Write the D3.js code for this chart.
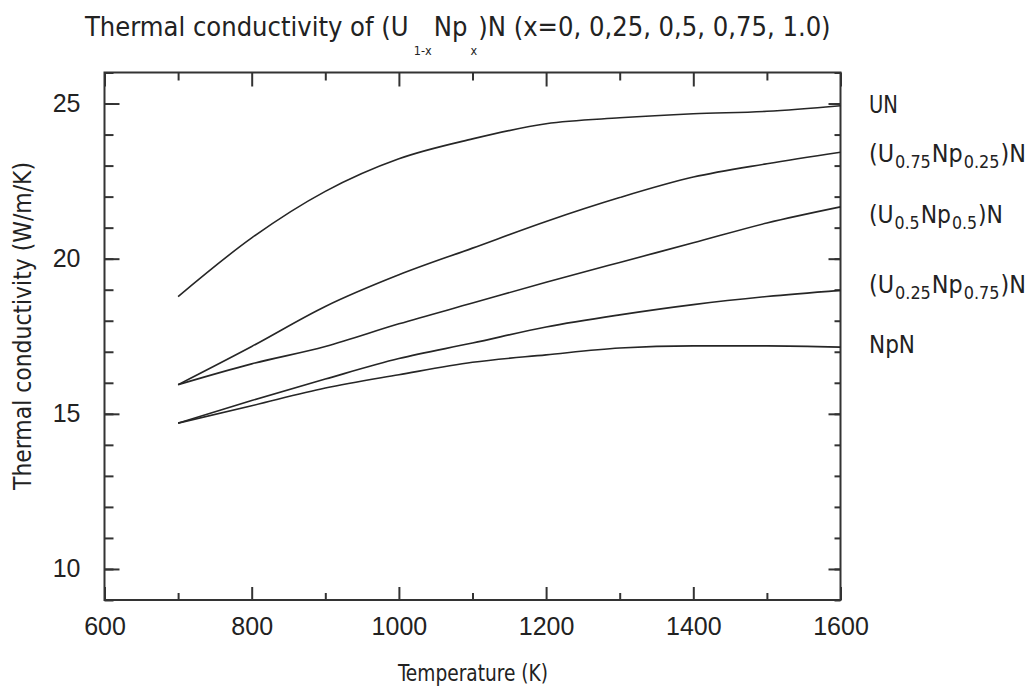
<!DOCTYPE html>
<html>
<head>
<meta charset="utf-8">
<script src="https://cdn.jsdelivr.net/npm/d3@7"></script>
<style>
  html, body { margin: 0; padding: 0; background: #fff; }
  svg { display: block; }
  text { fill: #222; font-family: "DejaVu Sans", sans-serif; }
</style>
</head>
<body>
<svg id="chart" width="1030" height="689"></svg>
<script>
// Temperatures (K) and thermal conductivity (W/m/K) of (U1-x Npx)N
const temperatures = [700, 800, 900, 1000, 1100, 1200, 1300, 1400, 1500, 1600];
const kUN     = [18.78, 20.67, 22.17, 23.22, 23.86, 24.35, 24.54, 24.67, 24.75, 24.93];
const kU75Np25 = [15.94, 17.17, 18.46, 19.48, 20.34, 21.20, 21.97, 22.63, 23.06, 23.43];
const kU50Np50 = [15.94, 16.61, 17.17, 17.90, 18.57, 19.24, 19.88, 20.51, 21.15, 21.67];
const kU25Np75 = [14.70, 15.43, 16.12, 16.78, 17.28, 17.80, 18.19, 18.52, 18.78, 18.98];
const kNpN    = [14.70, 15.26, 15.83, 16.26, 16.66, 16.90, 17.12, 17.19, 17.19, 17.15];

// Curve labels: [main, subscript, main, subscript, main]
const seriesLabels = [
  ["UN"],
  ["(U", "0.75", "Np", "0.25", ")N"],
  ["(U", "0.5", "Np", "0.5", ")N"],
  ["(U", "0.25", "Np", "0.75", ")N"],
  ["NpN"]
];
const seriesValues = [kUN, kU75Np25, kU50Np50, kU25Np75, kNpN];

const xMajorTicks = [600, 800, 1000, 1200, 1400, 1600];
const xMinorTicks = [700, 900, 1100, 1300, 1500];
const yMajorTicks = [10, 15, 20, 25];
const yMinorTicks = d3.range(9, 27);

const svg = d3.select("#chart");
const plotLeft = 104.5, plotRight = 840.5, plotTop = 72.5, plotBottom = 600;

const x = d3.scaleLinear().domain([600, 1600]).range([plotLeft, plotRight]);
const y = d3.scaleLinear().domain([9, 26]).range([plotBottom, plotTop]);

const frameColor = "#333";
const tickFont = "'Liberation Sans', Arial, sans-serif";
const labelFont = "'Liberation Sans Narrow', 'DejaVu Sans Condensed', sans-serif";

// Ticks on all four sides, pointing inward
function addAxis(axis, tx, ty, cls) {
  const g = svg.append("g").attr("class", cls)
    .attr("transform", `translate(${tx},${ty})`).call(axis);
  g.select(".domain").remove();
  g.selectAll("line").attr("stroke", frameColor).attr("stroke-width", 2);
  g.selectAll("text").attr("fill", "#222")
    .style("font-family", tickFont).style("font-size", "25px");
  return g;
}

// left
addAxis(d3.axisLeft(y).tickValues(yMinorTicks).tickSize(-9).tickFormat(""), plotLeft, 0, "y-minor");
addAxis(d3.axisLeft(y).tickValues(yMajorTicks).tickSize(-15).tickPadding(24), plotLeft, 0, "y-major");
// right
addAxis(d3.axisRight(y).tickValues(yMinorTicks).tickSize(-6).tickFormat(""), plotRight, 0, "y2-minor");
addAxis(d3.axisRight(y).tickValues(yMajorTicks).tickSize(-12).tickFormat(""), plotRight, 0, "y2-major");
// bottom
addAxis(d3.axisBottom(x).tickValues(xMinorTicks).tickSize(-7).tickFormat(""), 0, plotBottom, "x-minor");
addAxis(d3.axisBottom(x).tickValues(xMajorTicks).tickSize(-13).tickPadding(17).tickFormat(d3.format("d")), 0, plotBottom, "x-major");
// top
addAxis(d3.axisTop(x).tickValues(xMinorTicks).tickSize(-8).tickFormat(""), 0, plotTop, "x2-minor");
addAxis(d3.axisTop(x).tickValues(xMajorTicks).tickSize(-14).tickFormat(""), 0, plotTop, "x2-major");

// Plot frame
svg.append("rect")
  .attr("x", plotLeft).attr("y", plotTop)
  .attr("width", plotRight - plotLeft).attr("height", plotBottom - plotTop)
  .attr("fill", "none").attr("stroke", frameColor).attr("stroke-width", 2);

// Conductivity curves
const line = d3.line()
  .x((d, i) => x(temperatures[i]))
  .y(d => y(d))
  .curve(d3.curveMonotoneX);

svg.append("g").selectAll("path")
  .data(seriesValues)
  .join("path")
  .attr("d", line)
  .attr("fill", "none")
  .attr("stroke", "#262626")
  .attr("stroke-width", 1.6);

// Squeeze or stretch a text block horizontally to a given width
function fitWidth(sel, x0, y0, width) {
  const w = sel.node().getBBox().width;
  sel.attr("transform", `translate(${x0},${y0}) scale(${width / w},1)`);
}

// Curve labels at the right edge
const labelNudge = [-2, 1, 7, -6, -3];
const labelWidth = [29, 157, 134, 157, 46];
seriesLabels.forEach((parts, i) => {
  const last = seriesValues[i][seriesValues[i].length - 1];
  const t = svg.append("text")
    .style("font-family", labelFont)
    .style("font-size", "25px");
  let low = false;
  parts.forEach((p, j) => {
    const ts = t.append("tspan").text(p);
    if (j % 2 === 1) {
      ts.style("font-size", "18px").attr("dx", 1).attr("dy", 6);
      low = true;
    } else if (low) {
      ts.attr("dx", 1).attr("dy", -6);
      low = false;
    }
  });
  fitWidth(t, 869, y(last) + labelNudge[i] + 9, labelWidth[i]);
});

// Title with subscripts
const title = svg.append("text")
  .style("font-family", "'DejaVu Sans Condensed', 'DejaVu Sans', sans-serif")
  .style("font-size", "26px");
title.append("tspan").text("Thermal conductivity of (U");
title.append("tspan").text("1-x").attr("dx", 5).attr("dy", 19).style("font-size", "12px");
title.append("tspan").text("Np").attr("dx", 2).attr("dy", -19);
title.append("tspan").text("x").attr("dx", 3).attr("dy", 19).style("font-size", "12px");
title.append("tspan").text(")N (x=0, 0,25, 0,5, 0,75, 1.0)").attr("dx", 1).attr("dy", -19);
fitWidth(title, 85, 36, 747);

// Axis titles
svg.append("text")
  .attr("x", 473).attr("y", 681)
  .attr("text-anchor", "middle")
  .attr("textLength", 150).attr("lengthAdjust", "spacingAndGlyphs")
  .style("font-family", labelFont)
  .style("font-size", "23px")
  .text("Temperature (K)");

svg.append("text")
  .attr("transform", "translate(31,326) rotate(-90)")
  .attr("text-anchor", "middle")
  .attr("textLength", 328).attr("lengthAdjust", "spacingAndGlyphs")
  .style("font-family", labelFont)
  .style("font-size", "25px")
  .text("Thermal conductivity (W/m/K)");
</script>
</body>
</html>
